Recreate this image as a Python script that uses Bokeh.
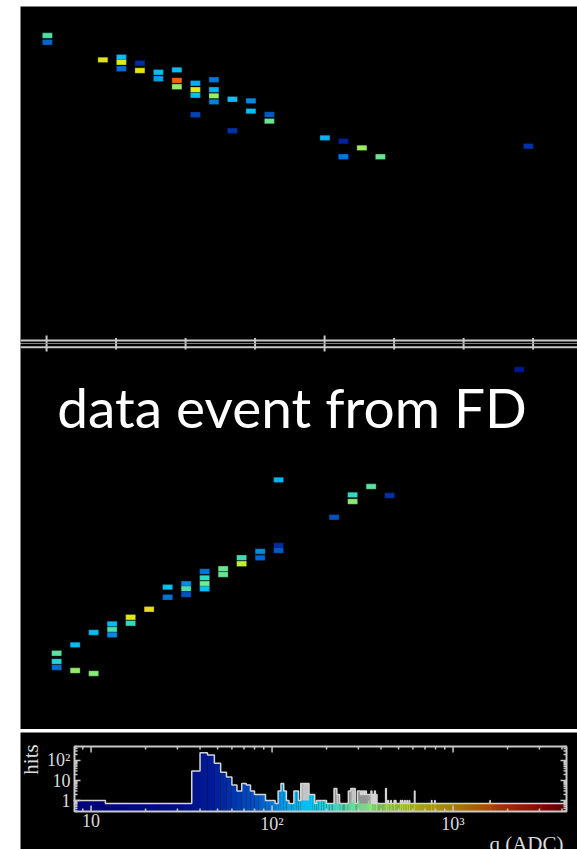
import numpy as np
from bokeh.plotting import figure
from bokeh.models import Label, Range1d, Spacer, ColumnDataSource, LogColorMapper, Span
from bokeh.layouts import row, column
from bokeh.embed import file_html
from bokeh.resources import INLINE
from bokeh.core.properties import value

# ---------------- data ----------------
PLANE_PITCH = 6.654      # cm between planes
Z_FIRST = 2000.6         # z (cm) of first plane shown

# top view (even planes): plane index, transverse position (cm), charge (ADC)
top_plane = [0, 0, 6, 8, 8, 8, 10, 10, 12, 12, 14, 14, 14, 16, 16, 16, 16,
             18, 18, 18, 18, 20, 20, 22, 22, 24, 24, 30, 32, 32, 34, 36, 52]
top_pos = [719.4, 714.6, 701.9, 703.8, 700.2, 695.5, 699.5, 694.2, 693.0, 688.3,
           694.7, 687.1, 682.5, 685.1, 680.4, 676.5, 662.4, 687.6, 680.4, 676.0,
           671.7, 673.6, 650.9, 672.4, 665.0, 662.6, 657.8, 645.8, 643.4, 632.2,
           638.6, 632.2, 639.8]
top_adc = [260, 90, 650, 150, 600, 95, 55, 650, 150, 120, 150, 1700, 380, 130,
           600, 150, 70, 100, 140, 400, 105, 160, 60, 110, 150, 85, 300, 140, 50,
           100, 400, 300, 60]

# side view (odd planes)
side_plane = [1, 1, 1, 3, 3, 5, 5, 7, 7, 7, 9, 9, 11, 13, 13, 15, 15, 15,
              17, 17, 17, 17, 19, 19, 21, 21, 23, 23, 25, 25, 25, 31, 33, 33,
              35, 37, 51]
side_pos = [-145.1, -151.1, -155.4, -139.1, -157.6, -130.2, -159.7, -124.0,
            -128.1, -131.9, -119.2, -123.5, -113.5, -97.6, -104.8, -95.2, -98.8,
            -102.9, -86.3, -90.9, -95.2, -98.8, -84.4, -88.5, -76.5, -80.8,
            -71.9, -76.5, -67.6, -71.2, -20.4, -47.3, -31.2, -36.0, -25.2,
            -31.7, 59.0]
side_adc = [280, 200, 95, 150, 380, 150, 350, 150, 250, 110, 650, 220, 700,
            160, 100, 110, 250, 80, 100, 220, 330, 160, 300, 300, 240, 500,
            110, 90, 55, 85, 140, 80, 220, 350, 280, 60, 40]

# charge histogram (4-ADC bins, lower edges)
BIN_W = 4
Q_MIN, Q_MAX = 8, 4096
event_q = [8, 36, 40, 44, 48, 52, 56, 60, 64, 68, 72, 76, 80, 84, 88, 92, 96,
           100, 108, 112, 116, 120, 132, 136, 140, 144, 148, 152, 156, 160,
           164, 168, 176, 180, 184, 188, 192, 196, 220, 272, 280, 300, 340,
           424, 480]
event_n = [1, 30, 240, 190, 73, 26, 15, 6, 3, 7, 6, 3, 2, 2, 2, 1, 1, 1, 3, 7,
           3, 1, 3, 3, 1, 1, 1, 1, 1, 2, 2, 2, 1, 1, 1, 1, 1, 1, 1, 1, 1, 1, 1,
           1, 1]
all_q = [144, 148, 152, 156, 220, 224, 228, 232, 264, 268, 272, 276, 280, 284,
         296, 300, 304, 308, 312, 316, 320, 324, 328, 332, 336, 340, 344, 348,
         352, 360, 368, 376, 424, 428, 436, 452, 472, 480, 512, 524, 540, 556,
         572, 612, 760, 792, 1600]
all_n = [7, 7, 7, 7, 4, 4, 2, 2, 3, 3, 4, 4, 4, 4, 3, 3, 3, 2, 3, 2, 3, 2, 3,
         2, 2, 2, 2, 2, 3, 2, 3, 2, 4, 1, 1, 1, 1, 1, 1, 1, 1, 1, 1, 3, 1, 1, 1]
EMPTY_LEVEL = 0.7

hist_x_tick_vals = [10, 100, 1000]
hist_x_tick_text = ["10", "10²", "10³"]
hist_y_tick_vals = [1, 10, 100]
hist_y_tick_text = ["1", "10", "10²"]
hist_x_title = "q (ADC)"
hist_y_title = "hits"

plane_ticks_major = [2000, 2200]
plane_ticks_minor = [2050, 2100, 2150, 2250, 2300, 2350]

# ---------------- palette ----------------
PAL_Q = [8, 30, 45, 60, 80, 100, 125, 160, 200, 260, 340, 450, 600, 800,
         1100, 1500, 2000, 3000, 4096]
PAL_C = ["#00007a", "#000e88", "#001a96", "#0032a8", "#0052c2", "#0078d8",
         "#00a8ec", "#00c4f4", "#20d4d8", "#50e0a8", "#80ea80", "#b0f050",
         "#dcec20", "#f0d010", "#f8a808", "#ff7800", "#f84000", "#d81800",
         "#980000"]


def _rgb(h):
    return [int(h[i:i + 2], 16) for i in (1, 3, 5)]


def build_palette(n=256):
    lq = np.log10(PAL_Q)
    cols = np.array([_rgb(c) for c in PAL_C], dtype=float)
    out = []
    for t in np.linspace(lq[0], lq[-1], n):
        r, g, b = (np.interp(t, lq, cols[:, k]) for k in range(3))
        out.append("#%02x%02x%02x" % (int(r), int(g), int(b)))
    return out


palette = build_palette()
mapper = LogColorMapper(palette=palette, low=Q_MIN, high=Q_MAX)

AX_COL = "#c8c8c8"
TXT_COL = "#dcdcdc"
PX_PER_CM = 1.39


def frame_fig(**kw):
    p = figure(output_backend="svg", toolbar_location=None,
               background_fill_color="black", border_fill_color="black",
               outline_line_color=None, min_border_left=0, min_border_right=0,
               min_border_top=0, min_border_bottom=0, **kw)
    p.xgrid.visible = False
    p.ygrid.visible = False
    p.frame_align = False
    return p


X_RANGE = (1981.25, 2381.95)

# ---------- top view ----------
TOP_LINE = 500.0
TOP_BOTTOM = TOP_LINE - 3 / PX_PER_CM
p_top = frame_fig(frame_width=557, frame_height=337,
                  x_range=Range1d(*X_RANGE),
                  y_range=Range1d(TOP_BOTTOM, TOP_BOTTOM + 337 / PX_PER_CM),
                  x_axis_location=None, y_axis_location=None)
src_top = ColumnDataSource(dict(
    z=[Z_FIRST + k * PLANE_PITCH for k in top_plane], y=top_pos, adc=top_adc))
p_top.rect(x="z", y="y", width=7.2, height=3.9, source=src_top,
           fill_color={"field": "adc", "transform": mapper},
           line_color="black", line_alpha=0.3, line_width=0.8)
p_top.add_layout(Span(location=TOP_LINE, dimension="width",
                      line_color=AX_COL, line_width=2))
p_top.segment(x0=plane_ticks_major, x1=plane_ticks_major,
              y0=TOP_LINE + 5 / PX_PER_CM, y1=TOP_BOTTOM,
              line_color=AX_COL, line_width=2)
p_top.segment(x0=plane_ticks_minor, x1=plane_ticks_minor,
              y0=TOP_LINE + 2.5 / PX_PER_CM, y1=TOP_BOTTOM,
              line_color=AX_COL, line_width=2)

# ---------- side view ----------
SIDE_BOTTOM = -200.0
SIDE_TOP = SIDE_BOTTOM + 386 / PX_PER_CM
SIDE_LINE = SIDE_TOP - 3.7 / PX_PER_CM
p_side = frame_fig(frame_width=557, frame_height=386,
                   x_range=Range1d(*X_RANGE), y_range=Range1d(SIDE_BOTTOM, SIDE_TOP),
                   x_axis_location=None, y_axis_location=None)
src_side = ColumnDataSource(dict(
    z=[Z_FIRST + k * PLANE_PITCH for k in side_plane], y=side_pos, adc=side_adc))
p_side.rect(x="z", y="y", width=7.2, height=3.9, source=src_side,
            fill_color={"field": "adc", "transform": mapper},
            line_color="black", line_alpha=0.3, line_width=0.8)
p_side.add_layout(Span(location=SIDE_LINE, dimension="width",
                       line_color=AX_COL, line_width=2))
p_side.segment(x0=plane_ticks_major, x1=plane_ticks_major,
               y0=SIDE_TOP, y1=SIDE_TOP - 8 / PX_PER_CM,
               line_color=AX_COL, line_width=2)
p_side.segment(x0=plane_ticks_minor, x1=plane_ticks_minor,
               y0=SIDE_TOP, y1=SIDE_TOP - 6 / PX_PER_CM,
               line_color=AX_COL, line_width=2)
p_side.add_layout(Label(x=2176.6, y=32.0, text="data event from FD",
                        text_color="white", text_font="Lato",
                        text_font_size="55px", text_align="center",
                        text_baseline="alphabetic"))

# ---------- charge histogram (ROOT-style box drawn inside a full-canvas frame) ----------
edges = np.arange(Q_MIN, Q_MAX + BIN_W, BIN_W)
lo = edges[:-1]
ev = dict(zip(event_q, event_n))
al = dict(zip(all_q, all_n))
n_ev = np.array([ev.get(int(q), 0) for q in lo], dtype=float)
n_all = np.array([max(al.get(int(q), 0), ev.get(int(q), 0)) for q in lo], dtype=float)

X_LO, X_HI = 8.1, 4234.0          # box edges (log x, 181 px per decade)
Y_BOT, Y_TOP = 0.28, 500.0        # box edges (log y, 20 px per decade)
XDEC, YDEC = 181.0, 20.0
BOX_L, BOX_R, BOX_T, BOX_B = 54, 11, 14, 38   # margins around the box, px
VIEW_X = (X_LO / 10 ** (BOX_L / XDEC), X_HI * 10 ** (BOX_R / XDEC))
VIEW_Y = (Y_BOT / 10 ** (BOX_B / YDEC), Y_TOP * 10 ** (BOX_T / YDEC))


def xoff(q, px):
    return q * 10 ** (px / XDEC)


def yoff(v, px):
    return v * 10 ** (px / YDEC)


p_h = frame_fig(frame_width=557, frame_height=117,
                x_axis_type="log", y_axis_type="log",
                x_range=Range1d(*VIEW_X), y_range=Range1d(*VIEW_Y),
                x_axis_location=None, y_axis_location=None)

gsel = n_all > n_ev
p_h.quad(left=lo[gsel], right=lo[gsel] + BIN_W, bottom=Y_BOT, top=n_all[gsel],
         fill_color="#c4c4c4", line_color=None)
src_h = ColumnDataSource(dict(left=lo, right=lo + BIN_W, qc=lo + BIN_W / 2,
                              top=np.maximum(n_ev, EMPTY_LEVEL)))
p_h.quad(left="left", right="right", bottom=Y_BOT, top="top", source=src_h,
         fill_color={"field": "qc", "transform": mapper}, line_color=None)
outline = np.maximum(n_all, EMPTY_LEVEL)
p_h.step(x=list(edges), y=list(outline) + [outline[-1]], mode="after",
         line_color="#d4d4d4", line_width=1.5)

# inner ticks on all four sides
xt = [m * 10 ** d for d in range(0, 4) for m in range(1, 10) if X_LO <= m * 10 ** d <= X_HI]
yt = [m * 10.0 ** d for d in range(-1, 3) for m in range(1, 10) if Y_BOT <= m * 10.0 ** d <= Y_TOP]
xt_len = [6 if v in hist_x_tick_vals else 3 for v in xt]
yt_len = [6 if v in hist_y_tick_vals else 3 for v in yt]
p_h.segment(x0=xt, x1=xt, y0=Y_TOP, y1=[yoff(Y_TOP, -L) for L in xt_len],
            line_color=AX_COL, line_width=1.5)
p_h.segment(x0=xt, x1=xt, y0=Y_BOT, y1=[yoff(Y_BOT, L) for L in xt_len],
            line_color=AX_COL, line_width=1.5)
p_h.segment(x0=X_HI, x1=[xoff(X_HI, -L) for L in yt_len], y0=yt, y1=yt,
            line_color=AX_COL, line_width=1.5)
p_h.segment(x0=X_LO, x1=[xoff(X_LO, L) for L in yt_len], y0=yt, y1=yt,
            line_color=AX_COL, line_width=1.5)
p_h.quad(left=X_LO, right=X_HI, bottom=Y_BOT, top=Y_TOP, fill_color=None,
         line_color=AX_COL, line_width=2)

# tick labels and axis titles
p_h.text(x=hist_x_tick_vals, y=yoff(Y_BOT, -2), text=hist_x_tick_text,
         text_font=value("Liberation Serif"), text_font_size="18px",
         text_color=TXT_COL, text_align="center", text_baseline="top")
p_h.text(x=xoff(X_LO, -4), y=hist_y_tick_vals, text=hist_y_tick_text,
         text_font=value("Liberation Serif"), text_font_size="18px",
         text_color=TXT_COL, text_align="right", text_baseline="middle")
p_h.text(x=[xoff(X_LO, -43)], y=[yoff(Y_BOT, 52)], text=[hist_y_title],
         angle=np.pi / 2, text_font=value("Liberation Serif"),
         text_font_size="21px", text_color=TXT_COL,
         text_align="center", text_baseline="middle")
p_h.text(x=[xoff(X_HI, -3)], y=[yoff(Y_BOT, -32)], text=[hist_x_title],
         text_font=value("Liberation Serif"), text_font_size="21px",
         text_color=TXT_COL, text_align="right", text_baseline="alphabetic")

layout = row(Spacer(width=20, height=10),
             column(Spacer(width=10, height=6), p_top, p_side,
                    Spacer(width=10, height=3), p_h))

open("out.html", "w").write(file_html(layout, INLINE, title="data event from FD"))
